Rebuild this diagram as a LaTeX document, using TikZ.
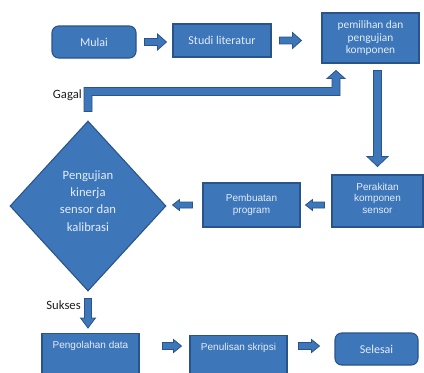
\documentclass[tikz,border=0pt]{standalone}
\usepackage{fontspec}
\setmainfont{Carlito}
\newfontfamily\arialf{Liberation Sans}
\usepackage{tikz}
\usetikzlibrary{positioning,calc,shapes.geometric}
\definecolor{bfill}{RGB}{61,119,186}
\definecolor{bline}{RGB}{40,84,138}
\definecolor{btext}{RGB}{228,236,248}
\definecolor{ltext}{RGB}{30,30,30}
% block arrow: from, to, start gap, end gap, shaft half, head half, head length
\newcommand{\blockarr}[7]{%
  \coordinate (ba-s) at ($(#1)!#3!(#2)$);
  \coordinate (ba-t) at ($(#2)!#4!(#1)$);
  \coordinate (ba-h) at ($(ba-t)!#7!(ba-s)$);
  \filldraw[barr] ($(ba-s)!#5!90:(ba-t)$) -- ($(ba-h)!#5!-90:(ba-s)$) -- ($(ba-h)!#6!-90:(ba-s)$)
    -- (ba-t) -- ($(ba-h)!#6!90:(ba-s)$) -- ($(ba-h)!#5!90:(ba-s)$) -- ($(ba-s)!#5!-90:(ba-t)$) -- cycle;}
\tikzset{
  box/.style={rectangle, draw=bline, fill=bfill, text=btext, line width=0.8pt, align=center, inner sep=1pt},
  rbox/.style={box, rounded corners=5pt},
  cal/.style={font=\fontsize{9}{11}\selectfont},
  ari/.style={font=\arialf\fontsize{7.5}{8.6}\selectfont},
  barr/.style={fill=bfill, draw=bline, line width=0.6pt, line join=miter},
  lbl/.style={font=\fontsize{9.5}{11}\selectfont, text=ltext, inner sep=0pt},
}
\begin{document}
\begin{tikzpicture}[x=0.75pt,y=-0.75pt]
\clip (0,0) rectangle (424,372);
\fill[white] (0,0) rectangle (424,372);
% top row
\node[rbox, cal, minimum width=63pt, minimum height=24pt] (mulai) at (94,42) {Mulai};
\node[box, cal, minimum width=73.5pt, minimum height=24.75pt] (studi) at (222,40.5) {Studi literatur};
\node[box, font=\fontsize{8.5}{9.5}\selectfont, minimum width=72.75pt, minimum height=37.5pt] (pemilih) at (370.5,38)
  {pemilihan dan\\pengujian\\komponen};
% middle row
\node[box, ari, minimum width=68.25pt, minimum height=39pt, text depth=4pt] (perakitan) at (377.5,201)
  {Perakitan\\komponen\\sensor};
\node[box, ari, minimum width=72.75pt, minimum height=33pt] (pembuatan) at (251.5,205)
  {Pembuatan\\program};
\node[diamond, draw=bline, fill=bfill, text=btext, line width=0.8pt, align=center, inner sep=0pt,
  minimum width=117pt, minimum height=127.5pt, text depth=8pt, font=\fontsize{9.5}{13}\selectfont] (diam) at (88,206)
  {Pengujian\\kinerja\\sensor dan\\kalibrasi};
% bottom row
\node[box, ari, anchor=north, minimum width=72.75pt, inner ysep=5pt, text height=6pt, text depth=40pt]
  (pengolahan) at (90.5,333) {Pengolahan data};
\node[box, ari, anchor=north, minimum width=72.75pt, inner ysep=5pt, text height=6pt, text depth=40pt]
  (penulisan) at (238.5,335) {Penulisan skripsi};
\node[rbox, cal, minimum width=62.25pt, minimum height=24pt] (selesai) at (376.5,349) {Selesai};
% labels
\node[lbl, anchor=east] (gagal) at (82,95) {Gagal};
\node[lbl, anchor=east] (sukses) at (81,305) {Sukses};
% arrows
\coordinate (rowb) at (0,346);
\coordinate (gbend) at (336,91.5);
\coordinate (gtip) at ($(pemilih.south -| gbend)+(0,7)$);
\blockarr{mulai.east}{studi.west |- mulai.east}{6pt}{4.5pt}{2.6pt}{6pt}{6.75pt}
\blockarr{studi.east}{pemilih.west |- studi.east}{6pt}{15pt}{2.6pt}{6pt}{6.75pt}
\blockarr{pemilih.south -| perakitan.north}{perakitan.north}{5.25pt}{6pt}{3pt}{7.9pt}{7.5pt}
\blockarr{perakitan.west |- pembuatan.east}{pembuatan.east}{5.25pt}{3.75pt}{2.25pt}{4.1pt}{5.25pt}
\blockarr{pembuatan.west}{pembuatan.west -| diam.east}{7.5pt}{4.5pt}{2.25pt}{4.1pt}{5.25pt}
\blockarr{diam.south}{diam.south |- pengolahan.north}{5.25pt}{3.75pt}{2.6pt}{5.6pt}{7.5pt}
\blockarr{pengolahan.east |- rowb}{penulisan.west |- rowb}{17.25pt}{6pt}{2.6pt}{4.9pt}{6pt}
\blockarr{penulisan.east |- rowb}{selesai.west |- rowb}{8.25pt}{11.25pt}{2.6pt}{4.9pt}{6pt}
% gagal loop back
\filldraw[barr] ($(diam.north)+(-4,-9)$) |- ($(gbend)+(-4,-4)$) -- ($(gtip)+(-4,8)$) -- ++(-5,0)
  -- (gtip) -- ++(9,8) -- ++(-5,0) -- ($(gbend)+(4,4)$) -| ($(diam.north)+(4,-9)$) -- cycle;
\end{tikzpicture}
\end{document}
